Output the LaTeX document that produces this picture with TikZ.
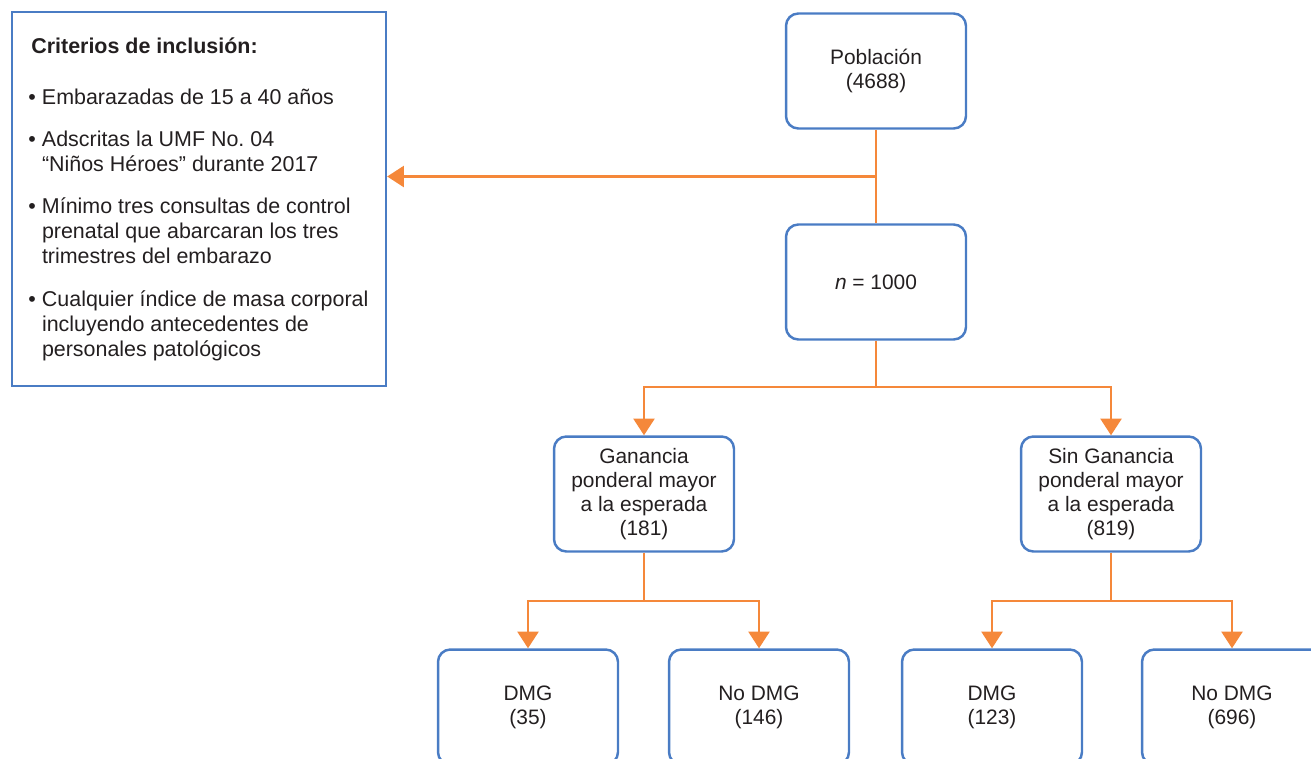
\documentclass[tikz,border=0pt]{standalone}
\usepackage{fontspec}
\setmainfont{Liberation Sans}
\usepackage{tikz}
\usetikzlibrary{positioning,calc,arrows.meta}
\definecolor{boxc}{HTML}{4A7CC4}
\definecolor{linkc}{HTML}{F5883A}
\definecolor{txtc}{HTML}{231F20}
\newcommand{\critem}[3]{%
  \node[crit text, anchor=base west] (#1) at (28,#2)
    {\begin{tabular}[t]{@{}l@{\hspace{3.5pt}}l@{}}#3\end{tabular}};}

\begin{document}
\begin{tikzpicture}[x=0.02cm, y=-0.02cm, text=txtc,
  font=\fontsize{11.9}{13.6}\selectfont,
  flow/.style={draw=boxc, line width=1.4pt, rounded corners=7pt,
    minimum width=3.6cm, minimum height=2.3cm, align=center, inner sep=2pt},
  link/.style={draw=linkc, line width=1.25pt},
  arrowed/.style={-{Triangle[length=9.5pt,width=12pt]}},
  crit text/.style={inner sep=0pt, font=\fontsize{12.2}{14.4}\selectfont}]
  \useasboundingbox (0,0) rectangle (1311,758);
  \clip (0,0) rectangle (1311,758);

  % criterios
  \node[draw=boxc, line width=1.4pt, minimum width=7.48cm, minimum height=7.48cm]
    (crit) at (199,199) {};
  \node[crit text, anchor=base west, font=\bfseries\fontsize{12.2}{14.4}\selectfont]
    (crittitle) at (31,53) {Criterios de inclusión:};
  \critem{itemA}{104}{• & Embarazadas de 15 a 40 años}
  \critem{itemB}{146}{• & Adscritas la UMF No.\ 04\\ & “Niños Héroes” durante 2017}
  \critem{itemC}{213}{• & Mínimo tres consultas de control\\ & prenatal que abarcaran los tres\\ & trimestres del embarazo}
  \critem{itemD}{306}{• & Cualquier índice de masa corporal\\ & incluyendo antecedentes de\\ & personales patológicos}

  % flujo
  \node[flow] (pob) at (876,71) {Población\\(4688)};
  \node[flow] (nbox) at (876,282) {\textit{n} = 1000};
  \node[flow] (gan) at (644,494) {Ganancia\\ponderal mayor\\a la esperada\\(181)};
  \node[flow] (singan) at (1111,494) {Sin Ganancia\\ponderal mayor\\a la esperada\\(819)};
  \node[flow] (dmgA) at (528,707) {DMG\\(35)};
  \node[flow] (nodmgA) at (759,707) {No DMG\\(146)};
  \node[flow] (dmgB) at (992,707) {DMG\\(123)};
  \node[flow] (nodmgB) at (1232,707) {No DMG\\(696)};

  % conectores
  \draw[link] (pob) -- (nbox);
  \coordinate (split) at ($(pob.south)!0.5!(nbox.north)$);
  \draw[link, arrowed] (split) -- (split -| crit.east);
  \draw[link] (nbox.south) -- ++(0,46) coordinate (forkA);
  \draw[link, arrowed] (forkA) -| (gan.north);
  \draw[link, arrowed] (forkA) -| (singan.north);
  \draw[link] (gan.south) -- ++(0,48) coordinate (forkB);
  \draw[link, arrowed] (forkB) -| (dmgA.north);
  \draw[link, arrowed] (forkB) -| (nodmgA.north);
  \draw[link] (singan.south) -- ++(0,48) coordinate (forkC);
  \draw[link, arrowed] (forkC) -| (dmgB.north);
  \draw[link, arrowed] (forkC) -| (nodmgB.north);
\end{tikzpicture}
\end{document}
